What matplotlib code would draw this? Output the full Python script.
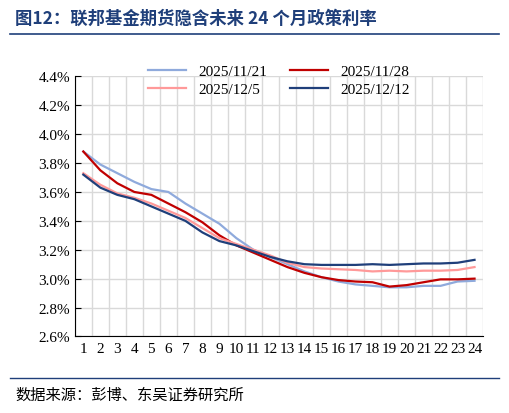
import matplotlib
matplotlib.use("Agg")
import matplotlib.pyplot as plt
import matplotlib.ticker as mticker

plt.rcParams['font.family'] = ['Liberation Serif', 'Noto Sans CJK SC']

months = list(range(1, 25))
s1121 = [3.88, 3.79, 3.73, 3.67, 3.62, 3.60, 3.52, 3.45, 3.38, 3.28, 3.20, 3.15,
         3.10, 3.05, 3.01, 2.98, 2.96, 2.95, 2.94, 2.94, 2.95, 2.95, 2.98, 2.985]
s1128 = [3.88, 3.75, 3.66, 3.60, 3.58, 3.52, 3.46, 3.39, 3.30, 3.23, 3.18, 3.13,
         3.08, 3.04, 3.01, 2.99, 2.98, 2.975, 2.945, 2.955, 2.975, 2.995, 2.995, 3.00]
s125 = [3.73, 3.65, 3.59, 3.56, 3.52, 3.47, 3.42, 3.35, 3.28, 3.24, 3.20, 3.16,
        3.11, 3.08, 3.07, 3.065, 3.06, 3.05, 3.055, 3.05, 3.055, 3.055, 3.06, 3.08]
s1212 = [3.72, 3.63, 3.58, 3.55, 3.50, 3.45, 3.40, 3.32, 3.26, 3.23, 3.19, 3.15,
         3.12, 3.10, 3.095, 3.095, 3.095, 3.10, 3.095, 3.10, 3.105, 3.105, 3.11, 3.13]

fig = plt.figure(figsize=(5.09, 4.14), dpi=100)
ax = fig.add_axes([0.147, 0.185, 0.802, 0.628])

l1, = ax.plot(months, s1121, color='#8faadc', lw=1.6, label='2025/11/21')
l2, = ax.plot(months, s1128, color='#c00000', lw=1.6, label='2025/11/28')
l3, = ax.plot(months, s125, color='#ff9999', lw=1.6, label='2025/12/5')
l4, = ax.plot(months, s1212, color='#1f3f7a', lw=1.6, label='2025/12/12')

ax.set_xlim(0.5, 24.5)
ax.set_ylim(2.6, 4.4)
ax.set_xticks(months)
ax.set_xticks([m + 0.5 for m in range(0, 25)], minor=True)
ax.set_yticks([2.6 + 0.2 * i for i in range(10)])
ax.yaxis.set_major_formatter(mticker.FuncFormatter(lambda v, p: f'{v:.1f}%'))
ax.grid(True, axis='y', color='#d9d9d9', lw=1)
ax.grid(True, axis='x', which='minor', color='#d9d9d9', lw=1)
ax.tick_params(axis='x', which='both', length=0, labelsize=11, pad=4)
ax.tick_params(axis='y', direction='in', length=4, labelsize=11)
for s in ['top', 'right']:
    ax.spines[s].set_visible(False)

# ordre colonne par colonne pour avoir 11/21, 11/28 sur la premiere ligne
ax.legend([l1, l3, l2, l4], ['2025/11/21', '2025/12/5', '2025/11/28', '2025/12/12'],
          loc='upper center', bbox_to_anchor=(0.5, 1.1), ncol=2, frameon=False,
          fontsize=11, handlelength=2.5, columnspacing=1.5, labelspacing=0.3)

fig.text(0.03, 0.955, '图12：联邦基金期货隐含未来 24 个月政策利率', fontsize=12.5,
         fontweight='bold', color='#1f3f7a', family=['Noto Sans CJK SC'], va='center')
fig.add_artist(plt.Line2D([0.02, 0.98], [0.915, 0.915], color='#1f3f7a', lw=1.2))
fig.add_artist(plt.Line2D([0.02, 0.98], [0.085, 0.085], color='#1f3f7a', lw=1.0))
fig.text(0.03, 0.045, '数据来源：彭博、东吴证券研究所', fontsize=11,
         family=['Noto Sans CJK SC'], va='center')

fig.savefig('out.png', dpi=100)
